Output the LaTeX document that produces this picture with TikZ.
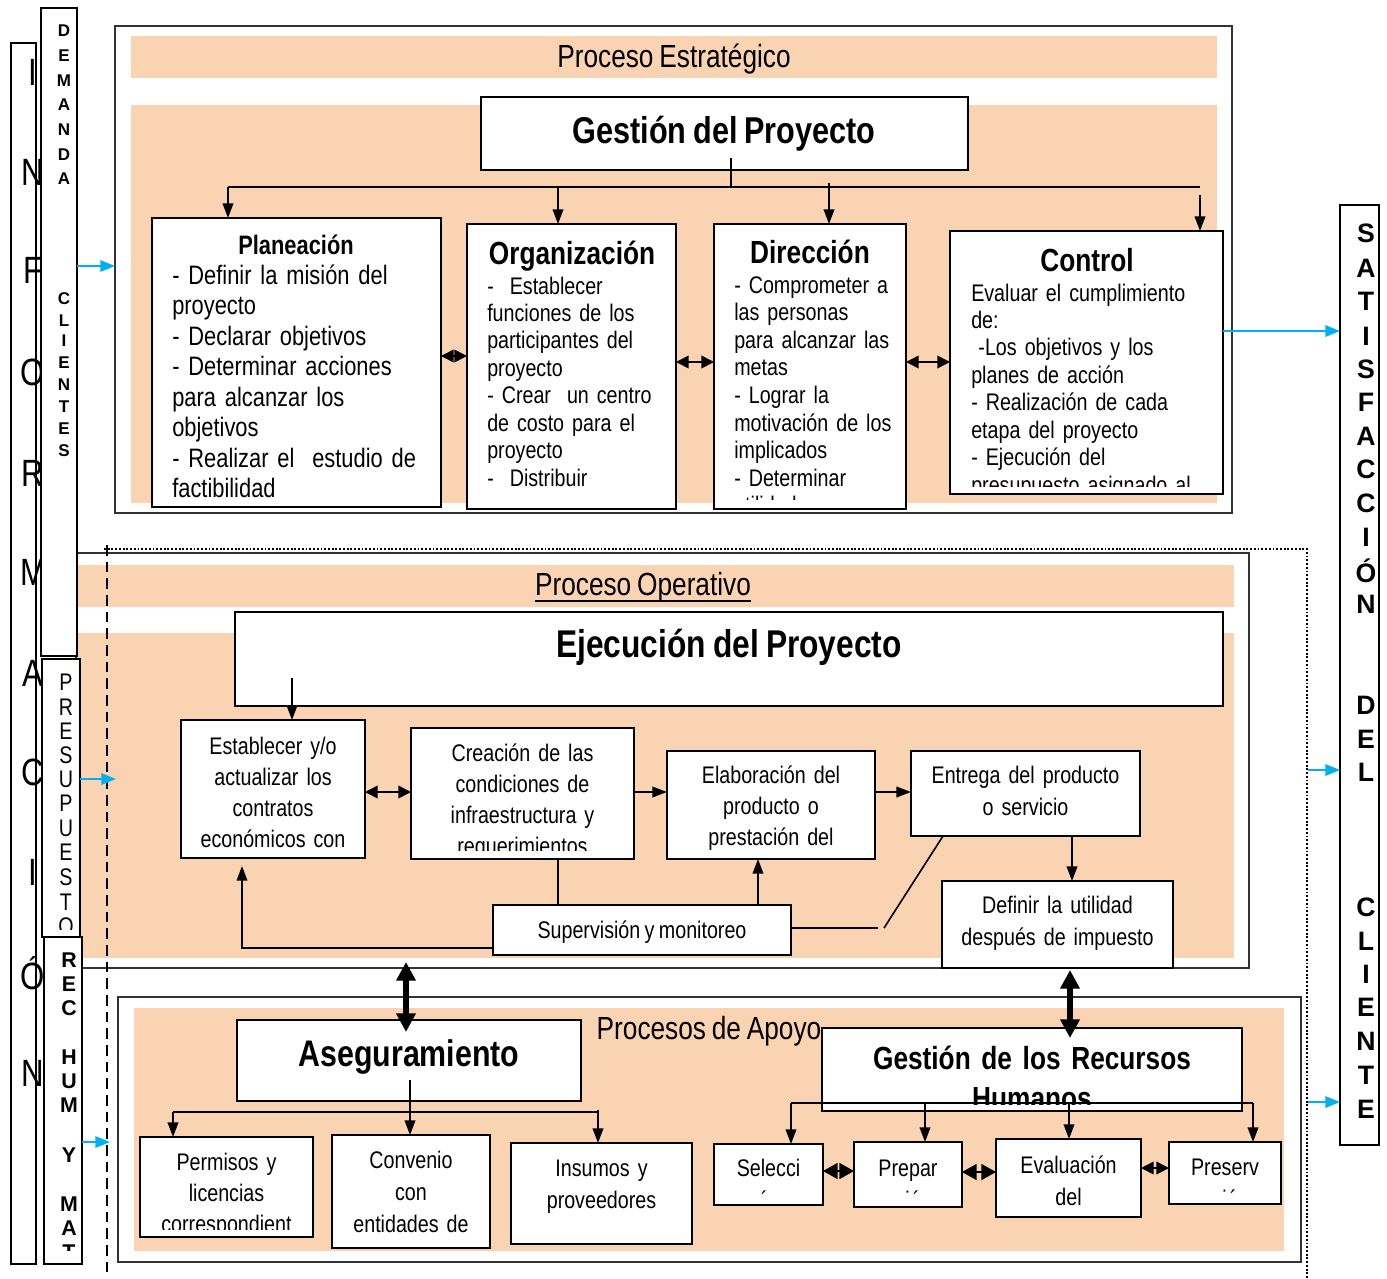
\documentclass[tikz,border=0pt]{standalone}
\usepackage{fontspec}
\setmainfont{Liberation Sans}[FakeStretch=0.82,WordSpace=0.8]
\newfontfamily\widesans{Liberation Sans}
\usetikzlibrary{arrows.meta}
\definecolor{peach}{HTML}{FAD3B3}
\definecolor{skyb}{HTML}{00B0F0}
\newcommand\mkbox[6][]{%
  \node[box,#1,minimum width={(#5-#3)*0.75pt},minimum height={(#6-#4)*0.75pt}] (#2) at ({(#3+#5)/2},{(#4+#6)/2}) {};}
\newcommand\fsz[2]{\fontsize{#1pt}{#2pt}\selectfont}
\begin{document}
\begin{tikzpicture}[x=0.75pt,y=-0.75pt,
  box/.style={draw=black,line width=1.4pt,fill=white,inner sep=0pt,outer sep=0pt},
  secbox/.style={draw=black!80,line width=1.6pt},
  lbl/.style={inner sep=0pt,anchor=base},
  bodyl/.style={inner sep=0pt,anchor=base west,align=left,text width=#1},
  bodyc/.style={inner sep=0pt,anchor=base,align=center,text width=#1},
  arr/.style={line width=1.2pt,-{Triangle[length=11pt,width=8pt]}},
  ln/.style={line width=1.2pt},
  dbls/.style={line width=1.2pt,{Triangle[length=9.5pt,width=9.5pt]}-{Triangle[length=9.5pt,width=9.5pt]}},
  dblm/.style={line width=1.2pt,{Triangle[length=11pt,width=12pt]}-{Triangle[length=11pt,width=12pt]}},
  dblt/.style={line width=3.8pt,{Triangle[length=14pt,width=14pt]}-{Triangle[length=14pt,width=14pt]}},
  bluearr/.style={draw=skyb,line width=1.6pt,-{Triangle[length=11pt,width=8.5pt]}},
]
\useasboundingbox (0,0) rectangle (1387,1278);

% ---------------- Proceso Estrategico ----------------
\mkbox[secbox]{strat}{115}{26}{1232}{513}
\fill[peach] (131,36) rectangle (1217,78);
\fill[peach] (131,105) rectangle (1217,503);
\node[lbl,font=\fsz{24}{28}] (tstrat) at (674,67) {Proceso Estratégico};
\mkbox{gp}{481}{97}{968}{170}
\node[lbl,font=\bfseries\fsz{28}{32}] (tgp) at (724,143) {Gestión del Proyecto};

\mkbox{plan}{152}{218}{441}{507}
\mkbox{org}{467}{224}{676}{509}
\mkbox{dir}{714}{224}{906}{509}
\mkbox{ctl}{950}{231}{1223}{494}

\node[lbl,font=\bfseries\fsz{20}{23}] (tplan) at (296,254) {Planeación};
\begin{scope}
\clip (152,218) rectangle (441,503);
\node[bodyl=260pt,font=\fsz{20}{22.9}] (bplan) at (172,284) {- Definir la misión del\\proyecto\\- Declarar objetivos\\- Determinar acciones\\para alcanzar los\\objetivos\\- Realizar el~ estudio de\\factibilidad};
\end{scope}

\node[lbl,font=\bfseries\fsz{24}{28}] (torg) at (572,264) {Organización};
\node[bodyl=200pt,font=\fsz{18}{20.6}] (borg) at (487,294) {-~ Establecer\\funciones de los\\participantes del\\proyecto\\- Crear~ un centro\\de costo para el\\proyecto\\-~ Distribuir};

\node[lbl,font=\bfseries\fsz{24}{28}] (tdir) at (810,263) {Dirección};
\begin{scope}
\clip (714,224) rectangle (906,499);
\node[bodyl=200pt,font=\fsz{18}{20.7}] (bdir) at (734,293) {- Comprometer a\\las personas\\para alcanzar las\\metas\\- Lograr la\\motivación de los\\implicados\\- Determinar\\utilidades};
\end{scope}

\node[lbl,font=\bfseries\fsz{24}{28}] (tctl) at (1087,271) {Control};
\begin{scope}
\clip (950,231) rectangle (1223,486);
\node[bodyl=220pt,font=\fsz{18}{20.6}] (bctl) at (971,301) {Evaluar el cumplimiento\\de:\\\hspace*{0.3em}-Los objetivos y los\\planes de acción\\- Realización de cada\\etapa del proyecto\\- Ejecución del\\presupuesto asignado al};
\end{scope}

% ---------------- Proceso Operativo ----------------
\mkbox[secbox]{opsec}{76}{553}{1249}{968}
\fill[peach] (77,565) rectangle (1234,607);
\fill[peach] (77,633) rectangle (1234,958);
\node[lbl,font=\fsz{24}{28}] (tops) at (643,595) {Proceso Operativo};
\draw[line width=2pt] ([yshift=-4.5pt]tops.base west) -- ([yshift=-4.5pt]tops.base east);
\mkbox{ej}{235}{612}{1223}{706}
\node[lbl,font=\bfseries\fsz{29}{32}] (tej) at (729,657) {Ejecución del Proyecto};

\mkbox{est}{181}{720}{365}{858}
\mkbox{cre}{411}{728}{634}{859}
\mkbox{ela}{667}{751}{875}{859}
\mkbox{ent}{911}{751}{1140}{836}
\mkbox{def}{942}{881}{1173}{968}
\mkbox{sup}{493}{905}{791}{955}

\begin{scope}
\clip (181,720) rectangle (365,849);
\node[bodyc=170pt,font=\fsz{18}{23.25}] (test) at (273,754) {Establecer y/o\\actualizar los\\contratos\\económicos con};
\end{scope}
\begin{scope}
\clip (411,728) rectangle (634,850);
\node[bodyc=170pt,font=\fsz{18}{23.25}] (tcre) at (522.5,761) {Creación de las\\condiciones de\\infraestructura y\\requerimientos};
\end{scope}
\node[bodyc=160pt,font=\fsz{18}{23.6}] (tela) at (771,783) {Elaboración del\\producto o\\prestación del};
\node[bodyc=170pt,font=\fsz{18}{24}] (tent) at (1025.5,783) {Entrega del producto\\o servicio};
\node[bodyc=170pt,font=\fsz{18}{24}] (tdef) at (1057.5,913) {Definir la utilidad\\después de impuesto};
\node[lbl,font=\fsz{18}{22}] (tsup) at (642,938) {Supervisión y monitoreo};

% ---------------- Procesos de Apoyo ----------------
\mkbox[secbox]{apsec}{118}{997}{1301}{1262}
\fill[peach] (134,1008) rectangle (1284,1251);
\node[lbl,font=\fsz{24}{28}] (tap) at (709,1039) {Procesos de Apoyo};
\mkbox{ase}{237}{1020}{581}{1101}
\node[lbl,font=\bfseries\fsz{27.75}{30}] (tase) at (409,1066) {Aseguramiento};
\mkbox{perm}{140}{1137}{313}{1237}
\mkbox{conv}{332}{1135}{490}{1248}
\mkbox{ins}{511}{1143}{692}{1244}
\mkbox{grh}{822}{1028}{1242}{1111}
\mkbox{sel}{714}{1144}{823}{1205}
\mkbox{prep}{854}{1142}{962}{1207}
\mkbox{eval}{996}{1139}{1141}{1217}
\mkbox{pres}{1169}{1142}{1281}{1204}

\begin{scope}
\clip (140,1137) rectangle (313,1229);
\node[bodyc=170pt,font=\fsz{18}{23.25}] (tperm) at (226.5,1170) {Permisos y\\licencias\\correspondient};
\end{scope}
\node[bodyc=150pt,font=\fsz{18}{24}] (tconv) at (411,1168) {Convenio\\con\\entidades de};
\node[bodyc=150pt,font=\fsz{18}{24}] (tins) at (601.5,1176) {Insumos y\\proveedores};
\begin{scope}
\clip (822,1028) rectangle (1242,1104);
\node[bodyc=400pt,font=\bfseries\fsz{24}{30}] (tgrh) at (1032,1069) {Gestión de los Recursos\\Humanos};
\end{scope}
\begin{scope}
\clip (714,1144) rectangle (823,1193);
\node[bodyc=100pt,font=\fsz{18}{24}] (tsel) at (768.5,1176) {Selecci\\ón};
\end{scope}
\begin{scope}
\clip (854,1142) rectangle (962,1194);
\node[bodyc=100pt,font=\fsz{18}{24}] (tprep) at (908,1176) {Prepar\\ación};
\end{scope}
\node[bodyc=110pt,font=\fsz{18}{24}] (teval) at (1068.5,1173) {Evaluación\\del};
\begin{scope}
\clip (1169,1142) rectangle (1281,1193);
\node[bodyc=100pt,font=\fsz{18}{24}] (tpres) at (1225,1175) {Preserv\\ación};
\end{scope}

% ---------------- left columns ----------------
\mkbox{infb}{11}{43}{36}{1264}
\foreach \ch/\yy [count=\i] in {I/72,N/172,F/270,O/372,R/473,M/572,A/673,C/772,I/872,Ó/976,N/1073}
  \node[lbl,font=\fsz{28.5}{30}] (inf\i) at (33,{\yy+13.6}) {\ch};
\mkbox{demb}{41}{8}{77}{656}
\foreach \ch/\yy [count=\i] in {D/30,E/55,M/80,A/104,N/129,D/154,A/178}
  \node[lbl,font=\widesans\bfseries\fsz{12.75}{14}] (dem\i) at (64,{\yy+6}) {\ch};
\foreach \ch/\yy [count=\i] in {C/298,L/320,I/340,E/362,N/384,T/406,E/428,S/450}
  \node[lbl,font=\widesans\bfseries\fsz{12.75}{14}] (cli\i) at (64,{\yy+6}) {\ch};
\mkbox{presb}{42}{659}{80}{937}
\begin{scope}
\clip (42,659) rectangle (80,929);
\foreach \ch/\yy [count=\i] in {P/682,R/707,E/731,S/755,U/779,P/803,U/828,E/852,S/877,T/902,O/926}
  \node[lbl,font=\fsz{18}{20}] (pre\i) at (66,{\yy+8.6}) {\ch};
\end{scope}
\mkbox{recb}{44}{937}{82}{1264}
\begin{scope}
\clip (44,937) rectangle (82,1250);
\foreach \ch/\yy [count=\i] in {R/960,E/984,C/1008,H/1057,U/1081,M/1105,Y/1155,M/1204,A/1228,T/1252}
  \node[lbl,font=\widesans\bfseries\fsz{16}{18}] (rec\i) at (69,{\yy+7.9}) {\ch};
\end{scope}

% ---------------- right column ----------------
\mkbox{sat}{1340}{205}{1379}{1145}
\foreach \ch/\yy [count=\i] in {S/232,A/267,T/300,I/335,S/368,F/401,A/435,C/468,C/502,I/536,Ó/572,N/603,D/704,E/738,L/771,C/906,L/940,I/973,E/1006,N/1040,T/1074,E/1108}
  \node[lbl,font=\widesans\bfseries\fsz{20}{22}] (sat\i) at (1366,{\yy+10}) {\ch};

% ---------------- dashed frame ----------------
\coordinate (dA) at (107,1278);
\coordinate (dB) at (107,545);
\coordinate (dB2) at (104,549);
\coordinate (dC) at (1307,549);
\coordinate (dD) at (1307,1278);
\draw[line width=1.6pt,dash pattern=on 8pt off 4.5pt] (dB) -- (dA);
\draw[line width=1.3pt,dash pattern=on 1.4pt off 1.4pt] (dB2) -- (dC) -- (dD);

% ---------------- connectors: strategic ----------------
\coordinate (bus0) at (731,187);
\coordinate (busL) at (228,187);
\coordinate (busR) at (1200,187);
\draw[ln] (gp.south -| bus0) ++(0,-12) -- (bus0);
\draw[ln] (busL) -- (busR);
\draw[arr] (busL) -- (busL |- plan.north);
\coordinate (b2) at (558,187);
\draw[arr] (b2) -- (b2 |- org.north);
\coordinate (b3) at (829,183);
\draw[arr] (b3) -- (b3 |- dir.north);
\coordinate (b4) at (1200,195);
\draw[arr] (b4) -- (b4 |- ctl.north);
\draw[dbls] (plan.east |- 0,356) -- (org.west |- 0,356);
\draw[dbls] (org.east |- 0,362) -- (dir.west |- 0,362);
\draw[dbls] (dir.east |- 0,362) -- (ctl.west |- 0,362);

% ---------------- connectors: operative ----------------
\coordinate (ejin) at (292,678);
\draw[arr] (ejin) -- (ejin |- est.north);
\draw[dbls] (est.east |- 0,792) -- (cre.west |- 0,792);
\draw[arr] (cre.east |- 0,792) -- (ela.west |- 0,792);
\draw[arr] (ela.east |- 0,792) -- (ent.west |- 0,792);
\draw[arr] (ent.south -| 1072,0) -- (def.north -| 1072,0);
\draw[ln] (cre.south -| 558,0) -- (sup.north -| 558,0);
\draw[arr] (sup.north -| 758,0) -- (ela.south -| 758,0);
\coordinate (estin) at (242,866);
\draw[arr] (sup.west |- 0,948) -| (estin);
\coordinate (d1) at (878,928);
\coordinate (d2) at (884,928);
\draw[ln] (sup.east |- 0,928) -- (d1);
\draw[ln] (d2) -- (ent.south -| 943,0);

% ---------------- thick arrows between processes ----------------
\coordinate (t1a) at (406,962);
\path (ase.north -| t1a) ++(0,12) coordinate (t1b);
\draw[dblt] (t1a) -- (t1b);
\path (def.south -| 1070,0) ++(0,2) coordinate (t2a);
\path (grh.north -| t2a) ++(0,10) coordinate (t2b);
\draw[dblt] (t2a) -- (t2b);

% ---------------- connectors: support ----------------
\path (ase.south -| 410,0) ++(0,-21) coordinate (as0);
\draw[arr] (as0) -- (conv.north -| as0);
\coordinate (abL) at (173,1112);
\coordinate (abR) at (598,1112);
\draw[ln] (abL) -- (abR);
\draw[arr] (abL) -- (abL |- perm.north);
\coordinate (abR2) at (598,1110);
\draw[arr] (abR2) -- (abR2 |- ins.north);

\coordinate (gbL) at (791,1103);
\coordinate (gbR) at (1253,1103);
\draw[ln] (gbL) -- (gbR);
\draw[arr] (gbL) -- (gbL |- sel.north);
\coordinate (gb2) at (925,1103);
\draw[arr] (gb2) -- (gb2 |- prep.north);
\coordinate (gb3) at (1069,1103);
\draw[arr] (gb3) -- (gb3 |- eval.north);
\draw[arr] (gbR) -- (gbR |- pres.north);
\draw[dblm] (sel.east |- 0,1171) -- (prep.west |- 0,1171);
\draw[dblm] (prep.east |- 0,1172) -- (eval.west |- 0,1172);
\draw[dbls] (eval.east |- 0,1168) -- (pres.west |- 0,1168);

% ---------------- blue arrows ----------------
\draw[bluearr] (demb.east |- 0,266) -- (strat.west |- 0,266);
\coordinate (pin) at (116,779);
\draw[bluearr] (presb.east |- 0,779) -- (pin);
\coordinate (rin) at (110,1142);
\draw[bluearr] (recb.east |- 0,1142) -- (rin);
\draw[bluearr] (ctl.east |- 0,331) -- (sat.west |- 0,331);
\coordinate (sa2) at (1308,770);
\draw[bluearr] (sa2) -- (sat.west |- 0,770);
\coordinate (sa3) at (1308,1102);
\draw[bluearr] (sa3) -- (sat.west |- 0,1102);
\end{tikzpicture}
\end{document}
